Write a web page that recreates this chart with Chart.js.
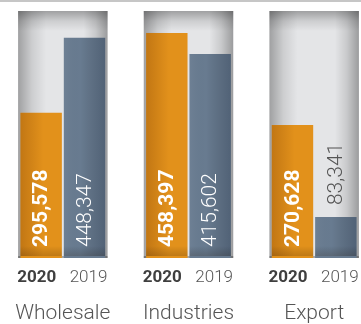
<!DOCTYPE html>
<html>
<head>
<meta charset="utf-8">
<script src="https://cdn.jsdelivr.net/npm/chart.js@4"></script>
<style>
html,body{margin:0;padding:0;overflow:hidden;background:#fff;width:361px;height:324px;}
#wrap{position:relative;width:377px;height:324px;}
#topline{position:absolute;left:0;top:0;width:361px;height:2px;background:#c6c6c6;}
</style>
</head>
<body>
<div id="wrap"><canvas id="c" width="377" height="324"></canvas><div id="topline"></div></div>
<script>
const categories = ['Wholesale', 'Industries', 'Export'];
const yearLabels = ['2020', '2019'];
const values2020 = [295578, 458397, 270628];
const values2019 = [448347, 415602, 83341];
const panelValues = [503000, 503000, 503000];
const yMax = 503000;

const FONT = 'Roboto, "Liberation Sans", Arial, sans-serif';

const shading = {
  id: 'shading',
  afterDatasetDraw(chart, args) {
    const ctx = chart.ctx;
    const meta = args.meta;
    const idx = args.index;
    ctx.save();
    meta.data.forEach(el => {
      const left = el.x - el.width / 2, right = el.x + el.width / 2;
      const top = el.y, bottom = el.base, w = el.width, h = bottom - top;
      let g;
      if (idx === 0) {
        g = ctx.createLinearGradient(left, 0, left + 28, 0);
        g.addColorStop(0, 'rgba(0,0,0,0.30)');
        g.addColorStop(0.5, 'rgba(0,0,0,0.10)');
        g.addColorStop(1, 'rgba(0,0,0,0)');
        ctx.fillStyle = g; ctx.fillRect(left, top, 28, h);
        g = ctx.createLinearGradient(right - 24, 0, right, 0);
        g.addColorStop(0, 'rgba(0,0,0,0)');
        g.addColorStop(0.5, 'rgba(0,0,0,0.12)');
        g.addColorStop(1, 'rgba(0,0,0,0.32)');
        ctx.fillStyle = g; ctx.fillRect(right - 24, top, 24, h);
        g = ctx.createLinearGradient(0, top, 0, top + 20);
        g.addColorStop(0, 'rgba(0,0,0,0.30)');
        g.addColorStop(0.5, 'rgba(0,0,0,0.10)');
        g.addColorStop(1, 'rgba(0,0,0,0)');
        ctx.fillStyle = g; ctx.fillRect(left, top, w, 20);
        ctx.fillStyle = 'rgba(0,0,0,0.28)';
        ctx.fillRect(left, bottom - 2, w, 2);
      } else {
        if (idx === 1) {
          g = ctx.createLinearGradient(left, 0, right, 0);
          g.addColorStop(0, 'rgba(110,50,0,0.28)');
          g.addColorStop(0.55, 'rgba(110,50,0,0.0)');
          g.addColorStop(1, 'rgba(255,255,255,0.0)');
        } else {
          g = ctx.createLinearGradient(left, 0, right, 0);
          g.addColorStop(0, 'rgba(255,255,255,0.04)');
          g.addColorStop(0.4, 'rgba(0,0,0,0.0)');
          g.addColorStop(1, 'rgba(0,10,30,0.22)');
        }
        ctx.fillStyle = g; ctx.fillRect(left, top, w, h - 2);
        const bh = Math.min(12, h);
        g = ctx.createLinearGradient(0, bottom - bh, 0, bottom);
        g.addColorStop(0, 'rgba(0,0,0,0)');
        g.addColorStop(1, 'rgba(40,20,0,0.22)');
        ctx.fillStyle = g; ctx.fillRect(left, bottom - bh, w, bh - 2);
      }
    });
    ctx.restore();
  },
  afterDatasetsDraw(chart) {
    const ctx = chart.ctx;
    ctx.save();
    [1, 2].forEach(di => {
      const meta = chart.getDatasetMeta(di);
      const ds = chart.data.datasets[di];
      meta.data.forEach((el, i) => {
        const val = ds.data[i];
        const text = val.toLocaleString('en-US');
        const bold = di === 1;
        ctx.font = (bold ? '700 ' : '300 ') + '21px ' + FONT;
        const tw = ctx.measureText(text).width;
        const h = el.base - el.y;
        let startY, color;
        if (h > tw + 22) { startY = el.base - 11; color = '#ffffff'; }
        else { startY = el.y - 12; color = '#555555'; }
        ctx.save();
        ctx.translate(el.x + 1, startY);
        ctx.rotate(-Math.PI / 2);
        ctx.fillStyle = color;
        ctx.textAlign = 'left';
        ctx.textBaseline = 'middle';
        ctx.fillText(text, 0, 0);
        ctx.restore();
        ctx.font = (bold ? '700 ' : '300 ') + '17px ' + FONT;
        ctx.fillStyle = bold ? '#3f3f3f' : '#555555';
        ctx.textAlign = 'center';
        ctx.textBaseline = 'middle';
        ctx.fillText(yearLabels[di - 1], el.x + (bold ? -4.5 : 4), el.base + 20);
      });
    });
    ctx.restore();
  }
};

new Chart(document.getElementById('c'), {
  type: 'bar',
  data: {
    labels: categories,
    datasets: [
      { label: 'panel', data: panelValues, backgroundColor: '#e4e5e7',
        categoryPercentage: 0.712, barPercentage: 1, grouped: false, order: 3 },
      { label: yearLabels[0], data: values2020, backgroundColor: '#e2911b',
        categoryPercentage: 0.69, barPercentage: 0.955, order: 1 },
      { label: yearLabels[1], data: values2019, backgroundColor: '#687b90',
        categoryPercentage: 0.69, barPercentage: 0.955, order: 1 }
    ]
  },
  options: {
    responsive: false,
    animation: false,
    devicePixelRatio: 1,
    layout: { padding: { top: 11, left: 0, right: 0, bottom: 0 } },
    plugins: { legend: { display: false }, tooltip: { enabled: false } },
    scales: {
      y: { display: false, min: 0, max: yMax },
      x: {
        type: 'category', offset: true,
        grid: { display: false, drawTicks: true, tickLength: 40 }, border: { display: false },
        ticks: { color: '#555555', font: { family: FONT, size: 21, weight: '300' }, padding: 3, maxRotation: 0 },
        afterFit(axis) { axis.height = 66; }
      }
    }
  },
  plugins: [shading]
});
</script>
</body>
</html>
